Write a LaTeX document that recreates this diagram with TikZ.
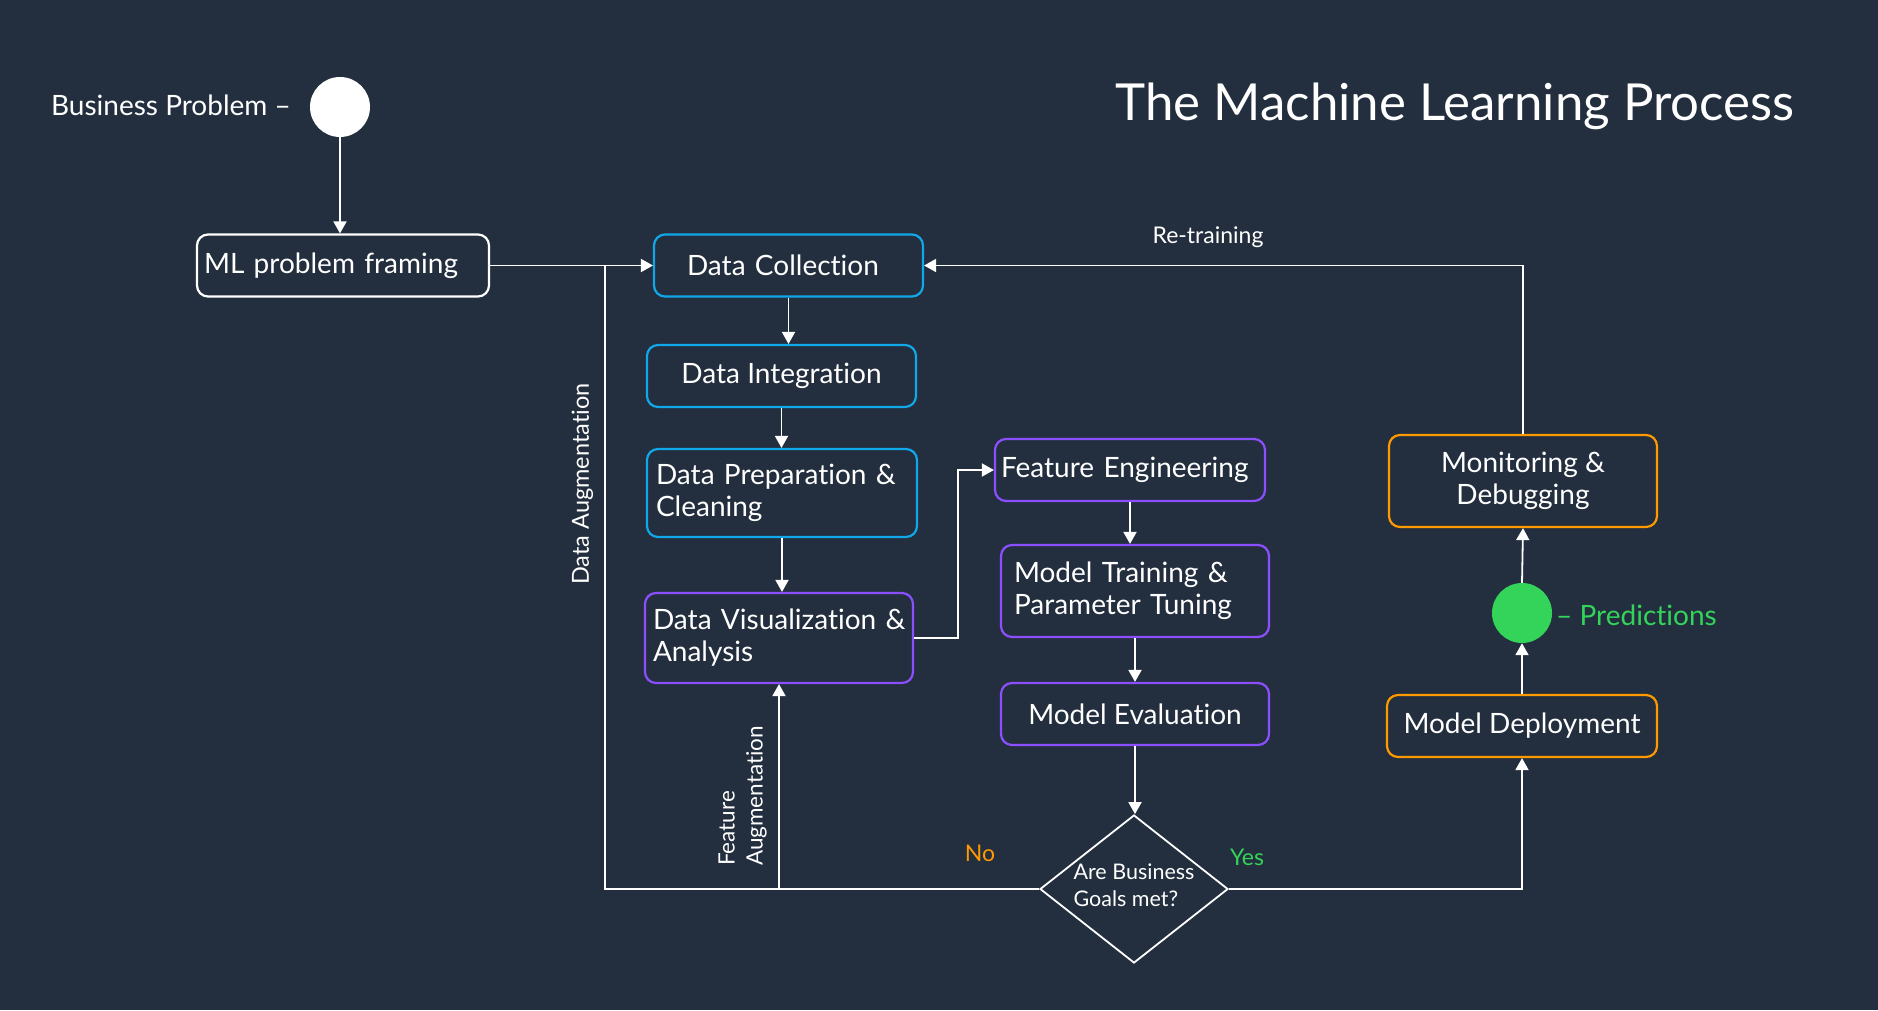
\documentclass[tikz,border=0pt]{standalone}
\usepackage{fontspec}
\setmainfont{Lato}[Ligatures=NoCommon]
\usetikzlibrary{arrows.meta,shapes.geometric}
\definecolor{bg}{HTML}{232F3E}
\definecolor{awsblue}{HTML}{12A7E8}
\definecolor{awspurple}{HTML}{8C4FFF}
\definecolor{awsorange}{HTML}{FF9900}
\definecolor{awsgreen}{HTML}{34D35A}
\begin{document}
\begin{tikzpicture}[x=1pt,y=-1pt,
  box/.style={draw, line width=2.2pt, rounded corners=11pt, text=white,
    minimum height=62pt, minimum width=269pt, inner sep=0pt,
    font=\fontsize{28}{32}\selectfont},
  conn/.style={draw=white, line width=1.8pt},
  arr/.style={-{Triangle[length=12pt,width=13pt]}},
  lbl/.style={text=white, inner sep=0pt},
]
\useasboundingbox (0,0) rectangle (1878,1010);
\fill[bg] (0,0) rectangle (1878,1010);

% title
\node[lbl, anchor=base, font=\fontsize{51}{60}\selectfont] (title) at (1455,120) {The Machine Learning Process};

% start
\node[circle, fill=white, minimum size=60pt, inner sep=0pt] (start) at (340,107) {};
\node[lbl, anchor=east, font=\fontsize{28}{32}\selectfont] (bp) at (291,105) {Business Problem –};

% boxes
\node[box, draw=white, minimum width=292pt, text width=278pt, inner xsep=7pt, align=left] (mlpf) at (343,265.5) {\mbox{ML problem framing}};
\node[box, draw=awsblue, text width=203pt, inner xsep=33pt, align=left] (dc) at (788.5,265.5) {\mbox{Data Collection}};
\node[box, draw=awsblue] (di) at (781.5,376) {Data Integration};
\node[box, draw=awsblue, minimum width=270pt, minimum height=88pt, text width=252pt, inner xsep=9pt, align=left] (dp) at (782,493) {\mbox{Data Preparation \&}\\Cleaning};
\node[box, draw=awspurple, minimum width=268pt, minimum height=90pt, text width=252pt, inner xsep=8pt, align=left] (dv) at (779,638) {\mbox{Data Visualization \&}\\Analysis};
\node[box, draw=awspurple, minimum width=270pt, text width=258pt, inner xsep=6pt, align=left] (fe) at (1130,470) {\mbox{Feature Engineering}};
\node[box, draw=awspurple, minimum width=268pt, minimum height=92pt, text width=242pt, inner xsep=13pt, align=left] (mt) at (1135,591) {\mbox{Model Training \&}\\\mbox{Parameter Tuning}};
\node[box, draw=awspurple, minimum width=268pt] (me) at (1135,714) {Model Evaluation};
\node[box, draw=awsorange, minimum width=268pt, minimum height=92pt, align=center] (mdbg) at (1523,481) {Monitoring \&\\Debugging};
\node[box, draw=awsorange, minimum width=270pt] (mdep) at (1522,726) {Model Deployment};

% decision
\node[diamond, draw=white, line width=1.8pt, minimum width=188pt, minimum height=148pt, inner sep=0pt] (goal) at (1134,889) {};
\node[lbl, align=left, font=\fontsize{21.5}{27}\selectfont] (goaltxt) at (1134,885) {Are Business\\Goals met?};

% predictions
\node[circle, fill=awsgreen, minimum size=60pt, inner sep=0pt] (pred) at (1522,613) {};
\node[lbl, text=awsgreen, anchor=west, font=\fontsize{28}{32}\selectfont] (predtxt) at (1556,615) {– Predictions};

% coordinates
\coordinate (daj) at (605,265.5);
\coordinate (dab) at (605,889);

% connectors
\draw[conn, arr] (start.south) -- (start.south |- mlpf.north);
\draw[conn, arr] (mlpf.east) -- (dc.west);
\draw[conn, arr] (dc.south) -- (dc.south |- di.north);
\draw[conn, arr] (di.south) -- (di.south |- dp.north);
\draw[conn, arr] (dp.south) -- (dp.south |- dv.north);
\draw[conn, arr] (dv.east) -- ++(44,0) |- (fe.west);
\draw[conn, arr] (fe.south) -- (fe.south |- mt.north);
\draw[conn, arr] (mt.south) -- (mt.south |- me.north);
\draw[conn, arr] (me.south) -- (me.south |- goal.north);
\draw[conn] (goal.west) -- (dab) -- (daj);
\draw[conn, arr] (dv.south |- goal.west) -- (dv.south);
\draw[conn, arr] (goal.east) -- (goal.east -| mdep.south) -- (mdep.south);
\draw[conn, arr] (mdep.north) -- (pred.south);
\draw[conn, arr] (pred.north) -- (mdbg.south);
\draw[conn, arr] (mdbg.north) -- (mdbg.north |- dc.east) -- (dc.east);

% labels
\node[lbl, font=\fontsize{23}{27}\selectfont] (retrain) at (1208,237) {Re-training};
\node[lbl, text=awsorange, font=\fontsize{23}{27}\selectfont] (no) at (980,853) {No};
\node[lbl, text=awsgreen, font=\fontsize{23}{27}\selectfont] (yes) at (1247,857) {Yes};
\node[lbl, rotate=90, font=\fontsize{23.5}{27}\selectfont] (daug) at (582.5,484) {Data Augmentation};
\node[lbl, rotate=90, anchor=south west, align=left, font=\fontsize{22.5}{28}\selectfont] (faug) at (767,866) {Feature\\Augmentation};
\end{tikzpicture}
\end{document}
